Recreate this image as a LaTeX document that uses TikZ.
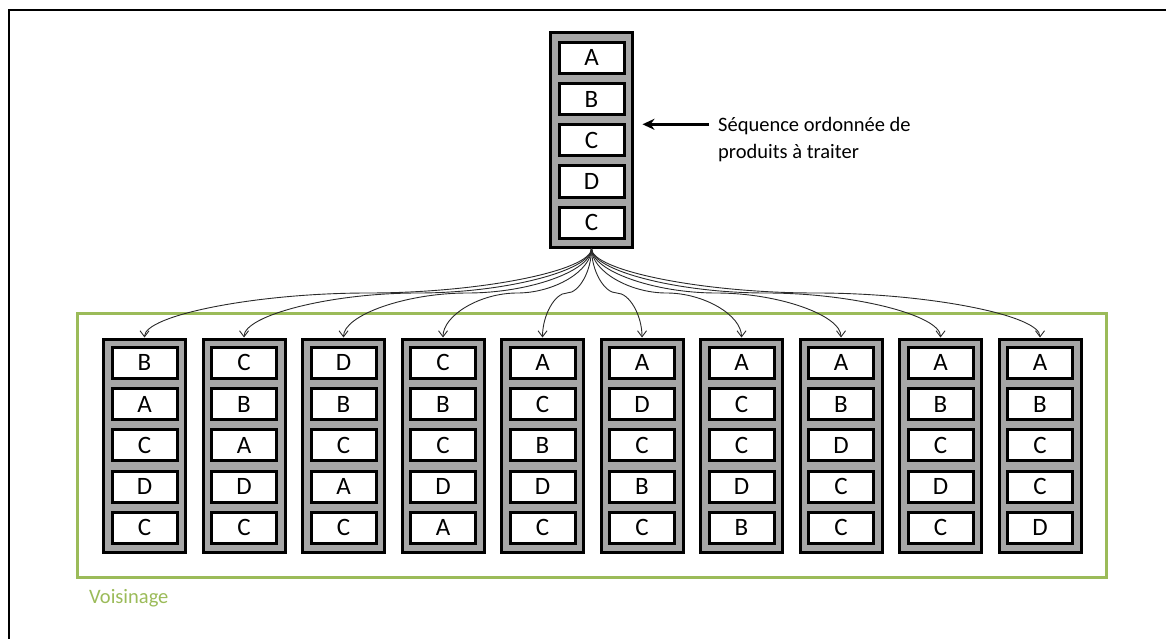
\documentclass[tikz,border=0pt]{standalone}
\usepackage{fontspec}
\setmainfont{Carlito}
\usetikzlibrary{arrows.meta,calc}
\definecolor{colfill}{HTML}{A6A6A6}
\definecolor{vgreen}{HTML}{9BBB59}
\definecolor{linkcol}{HTML}{2A2A2A}
\begin{document}
\begin{tikzpicture}[x=1pt,y=1pt,
  column/.style={draw=black, line width=3pt, fill=colfill, minimum width=82pt, minimum height=213pt, inner sep=0pt},
  cell/.style={draw=black, line width=3pt, fill=white, minimum width=65pt, minimum height=31pt, inner sep=0pt, font=\fontsize{25}{28}\selectfont},
  link/.style={-{Straight Barb[length=6pt,width=9pt]}, line width=0.9pt, draw=linkcol},
  bigarrow/.style={-{Stealth[length=12pt,width=11pt]}, line width=2.5pt, draw=black},
  lbltext/.style={anchor=base west, inner sep=0pt, font=\fontsize{20.5}{24}\selectfont},
  frame/.style={draw=black, line width=2pt}]
\useasboundingbox (0,0) rectangle (1166,-639);
% outer frame (top and left edges)
\draw[frame] (9,-639) -- (9,-10) -- (1166,-10);
% neighbourhood box
\draw[draw=vgreen, line width=3pt] (77,-313) rectangle (1106,-577);
\node[anchor=base west, inner sep=0pt, text=vgreen, font=\fontsize{20.5}{24}\selectfont] (vois) at (89,-603) {Voisinage};
% top column
\node[column, minimum height=214pt] (top) at (591.5,-140) {};
\foreach \L [count=\j] in {A,B,C,D,C}
  \node[cell] (top-\j) at (591.5,{-32-25.75-41.25*(\j-1)}) {\L};
% label
\node[lbltext] (lbl1) at (718,-132) {Séquence ordonnée de};
\node[lbltext] (lbl2) at (718,-159) {produits à traiter};
\coordinate (arrstart) at (709,-124.3);
\draw[bigarrow, shorten >=8.5pt] (arrstart) -- (top.east |- arrstart);
% bottom columns
\foreach \seq [count=\i] in {{B,A,C,D,C},{C,B,A,D,C},{D,B,C,A,C},{C,B,C,D,A},{A,C,B,D,C},{A,D,C,B,C},{A,C,C,D,B},{A,B,D,C,C},{A,B,C,D,C},{A,B,C,C,D}} {
  \pgfmathsetmacro\cx{144.5+99.5*(\i-1)}
  \node[column] (c\i) at (\cx,-445.5) {};
  \foreach \L [count=\j] in \seq
    \node[cell] (c\i-\j) at (\cx,{-337-25.75-41.25*(\j-1)}) {\L};
}
% connectors
\foreach \i in {1,...,10}
  \draw[link] let \p1=(top.south), \p2=(c\i.north) in
    (\p1) .. controls (\x1,{0.75*\y1+0.25*\y2}) and ({0.75*\x1+0.25*\x2},{0.5*\y1+0.5*\y2}) ..
    ({0.5*\x1+0.5*\x2},{0.5*\y1+0.5*\y2}) .. controls ({0.25*\x1+0.75*\x2},{0.5*\y1+0.5*\y2}) and (\x2,{0.25*\y1+0.75*\y2}) .. (\p2);
\end{tikzpicture}
\end{document}
